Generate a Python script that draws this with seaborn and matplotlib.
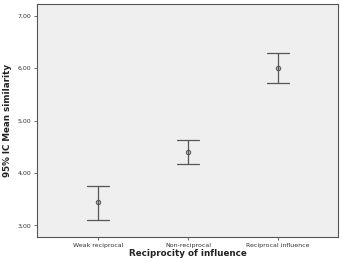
import matplotlib
matplotlib.use("Agg")
import matplotlib.pyplot as plt
import seaborn as sns
import pandas as pd
from matplotlib.ticker import FuncFormatter

categories = ["Weak reciprocal", "Non-reciprocal", "Reciprocal influence"]
means = [3.44, 4.40, 6.00]
lower = [3.11, 4.18, 5.72]
upper = [3.76, 4.63, 6.28]
yticks = [3.0, 4.0, 5.0, 6.0, 7.0]

rows = []
for c, lo, m, hi in zip(categories, lower, means, upper):
    for v in (lo, m, hi):
        rows.append({"cat": c, "val": v})
df = pd.DataFrame(rows)

sns.set_style("white")
plt.rcParams["font.family"] = ["DejaVu Sans"]

fig = plt.figure(figsize=(3.42, 2.58), dpi=100)
ax = fig.add_axes([37/342, 1-237/258, 301/342, 233/258])
ax.set_facecolor("#efefef")

sns.pointplot(data=df, x="cat", y="val", estimator="median", errorbar=("pi", 100),
              linestyle="none", color="#555555", capsize=0.24, err_kws={"linewidth": 0.9},
              markers="o", markersize=3.2, markerfacecolor="#bdbdbd",
              markeredgecolor="#555555", markeredgewidth=0.7, ax=ax)

ax.set_xlim(-0.68, 2.67)
ax.set_ylim(2.78, 7.22)
ax.set_yticks(yticks)
ax.yaxis.set_major_formatter(FuncFormatter(lambda v, p: f"{v:.2f}".replace(".", ",")))
for s in ax.spines.values():
    s.set_color("#555555")
    s.set_linewidth(0.8)
ax.tick_params(axis="both", which="both", length=2.5, width=0.6, color="#555555",
               labelsize=4.5, labelcolor="#333333", pad=1.5, left=True, bottom=True)
ax.set_ylabel("95% IC Mean similarity", fontsize=6.3, fontweight="bold", color="#222222", labelpad=4)
ax.set_xlabel("Reciprocity of influence", fontsize=6.3, fontweight="bold", color="#222222", labelpad=1)

fig.savefig("out.png", dpi=100, facecolor="white")
